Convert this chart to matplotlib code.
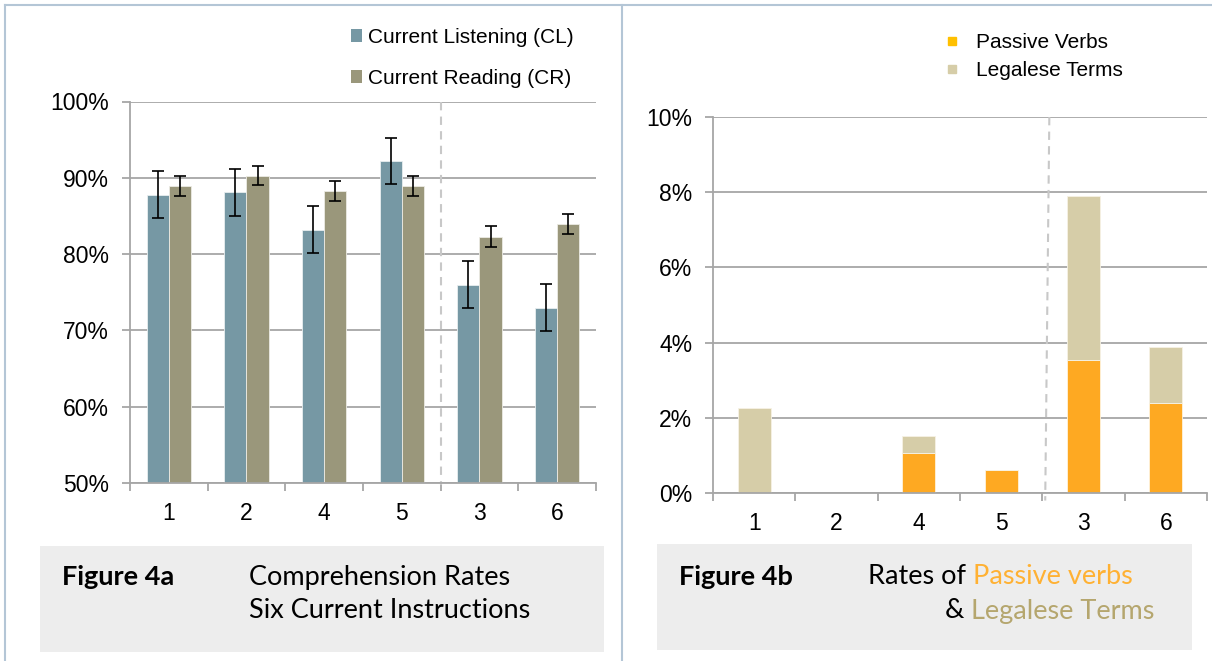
import matplotlib.pyplot as plt
from matplotlib.patches import Rectangle, Patch
from matplotlib.lines import Line2D

plt.rcParams['font.family'] = ['Liberation Sans', 'DejaVu Sans']

# instruction order as plotted
instructions = ['1', '2', '4', '5', '3', '6']

# Figure 4a: comprehension rates (%) with error bar half-widths
listening = [87.8, 88.1, 83.2, 92.2, 76.0, 73.0]
listening_err = [3.1, 3.1, 3.05, 3.05, 3.1, 3.1]
reading = [88.9, 90.3, 88.25, 88.9, 82.3, 83.9]
reading_err = [1.33, 1.3, 1.33, 1.33, 1.33, 1.3]

# Figure 4b: rates (%) of passive verbs and legalese terms (stacked)
passive = [0.0, 0.0, 1.06, 0.60, 3.55, 2.40]
legalese = [2.26, 0.0, 0.45, 0.0, 4.35, 1.48]

CL_COLOR = '#7698a4'
CR_COLOR = '#9a977b'
PASSIVE_COLOR = '#fea922'
PASSIVE_KEY = '#ffc000'
LEGALESE_COLOR = '#d6cda8'
GRID = '#a6a6a6'
DASH = '#c8c8c8'
BORDER = '#b4c6d6'

W, H = 1212, 661
fig = plt.figure(figsize=(W / 100, H / 100), dpi=100)


def px(x0, y0, x1, y1):
    """Axes rect from pixel box (top-left origin)."""
    return [x0 / W, 1 - y1 / H, (x1 - x0) / W, (y1 - y0) / H]


def style_axes(ax, ymin, ymax, step, fmt):
    n = len(instructions)
    ax.set_xlim(-0.5, n - 0.5)
    ax.set_ylim(ymin, ymax)
    ticks = [ymin + i * step for i in range(int(round((ymax - ymin) / step)) + 1)]
    ax.set_yticks(ticks)
    ax.set_yticklabels([fmt(t) for t in ticks])
    ax.yaxis.grid(True, color=GRID, linewidth=1.3)
    ax.set_axisbelow(True)
    # category boundaries as ticks, labels at centres
    ax.set_xticks([i - 0.5 for i in range(n + 1)])
    ax.set_xticklabels([])
    ax.set_xticks(range(n), minor=True)
    ax.set_xticklabels(instructions, minor=True)
    ax.tick_params(axis='x', which='major', length=6, width=1.3, color=GRID)
    ax.tick_params(axis='x', which='minor', length=0, pad=14, labelsize=16.5)
    ax.tick_params(axis='y', length=6, width=1.3, color=GRID, labelsize=16.5, pad=9)
    for side in ['top', 'right']:
        ax.spines[side].set_visible(False)
    for side in ['left', 'bottom']:
        ax.spines[side].set_color(GRID)
        ax.spines[side].set_linewidth(1.3)


x = list(range(len(instructions)))

# ---- Figure 4a ----
ax1 = fig.add_axes(px(130, 101.5, 596, 483))
bw = 0.285
ax1.bar([i - bw / 2 for i in x], listening, bw, color=CL_COLOR,
        edgecolor='#e8eef0', linewidth=0.6, bottom=0)
ax1.bar([i + bw / 2 for i in x], reading, bw, color=CR_COLOR,
        edgecolor='#ecebe4', linewidth=0.6, bottom=0)
ax1.errorbar([i - bw / 2 for i in x], listening, yerr=listening_err, fmt='none',
             ecolor='black', elinewidth=1.2, capsize=4.5, capthick=1.2)
ax1.errorbar([i + bw / 2 for i in x], reading, yerr=reading_err, fmt='none',
             ecolor='black', elinewidth=1.2, capsize=4.5, capthick=1.2)
style_axes(ax1, 50, 100, 10, lambda v: f'{v:.0f}%')
ax1.plot([3.5, 3.5], [100, 49.7], color=DASH, linestyle=(0, (4, 3)),
         linewidth=1.5, clip_on=False, zorder=1)

ax1.legend(handles=[Patch(facecolor=CL_COLOR, label='Current Listening (CL)'),
                    Patch(facecolor=CR_COLOR, label='Current Reading (CR)')],
           loc='upper left', bbox_to_anchor=(351 / W, 1 - 28 / H),
           bbox_transform=fig.transFigure, frameon=False, fontsize=15,
           handlelength=0.55, handleheight=0.55, handletextpad=0.25,
           labelspacing=1.05, borderpad=0, borderaxespad=0)

# ---- Figure 4b ----
ax2 = fig.add_axes(px(713, 117, 1207, 493))
bw2 = 0.40
ax2.bar(x, passive, bw2, color=PASSIVE_COLOR, edgecolor='#fff3dc', linewidth=0.6)
ax2.bar(x, legalese, bw2, bottom=passive, color=LEGALESE_COLOR,
        edgecolor='#f6f2e4', linewidth=0.6)
style_axes(ax2, 0, 10, 2, lambda v: f'{v:.0f}%')
ax2.plot([3.585, 3.535], [10, -0.2], color=DASH, linestyle=(0, (4, 3)),
         linewidth=1.5, clip_on=False, zorder=1)

ax2.legend(handles=[Line2D([], [], linestyle='none', marker='s', markersize=6,
                           color=PASSIVE_KEY, label='Passive Verbs'),
                    Line2D([], [], linestyle='none', marker='s', markersize=6,
                           color=LEGALESE_COLOR, label='Legalese Terms')],
           loc='upper left', bbox_to_anchor=(942 / W, 1 - 33 / H),
           bbox_transform=fig.transFigure, frameon=False, fontsize=15,
           handlelength=1.0, handletextpad=0.65, labelspacing=0.44,
           borderpad=0, borderaxespad=0)

# ---- panel frame lines ----
fig.add_artist(Line2D([5 / W, 1], [1 - 5 / H] * 2, color=BORDER, linewidth=1.5))
fig.add_artist(Line2D([5 / W] * 2, [0, 1 - 5 / H], color=BORDER, linewidth=1.5))
fig.add_artist(Line2D([622 / W] * 2, [0, 1 - 5 / H], color=BORDER, linewidth=1.5))

# ---- caption boxes ----
fig.add_artist(Rectangle((40 / W, 1 - 652 / H), 564 / W, 106 / H,
                         transform=fig.transFigure, facecolor='#ededed',
                         edgecolor='none'))
fig.add_artist(Rectangle((657 / W, 1 - 650 / H), 535 / W, 106 / H,
                         transform=fig.transFigure, facecolor='#ededed',
                         edgecolor='none'))

cap = dict(family=['Lato', 'DejaVu Sans'], fontsize=19.5, va='center')
fig.text(62 / W, 1 - 577 / H, 'Figure 4a', fontweight='bold', **cap)
fig.text(249 / W, 1 - 577 / H, 'Comprehension Rates', **cap)
fig.text(249 / W, 1 - 611 / H, 'Six Current Instructions', **cap)

fig.text(679 / W, 1 - 577 / H, 'Figure 4b', fontweight='bold', **cap)

renderer = fig.canvas.get_renderer()


def chain(x0, y0, parts):
    """Write coloured text pieces one after another on a line."""
    xpos = x0
    for s, c in parts:
        t = fig.text(xpos, y0, s, color=c, **cap)
        bb = t.get_window_extent(renderer=renderer)
        xpos = bb.x1 / W


chain(868 / W, 1 - 577 / H, [('Rates of ', 'black'), ('Passive verbs', '#ffb133')])
chain(945 / W, 1 - 611 / H, [('& ', 'black'), ('Legalese Terms', '#b5a66e')])

fig.savefig('out.png', dpi=100)
